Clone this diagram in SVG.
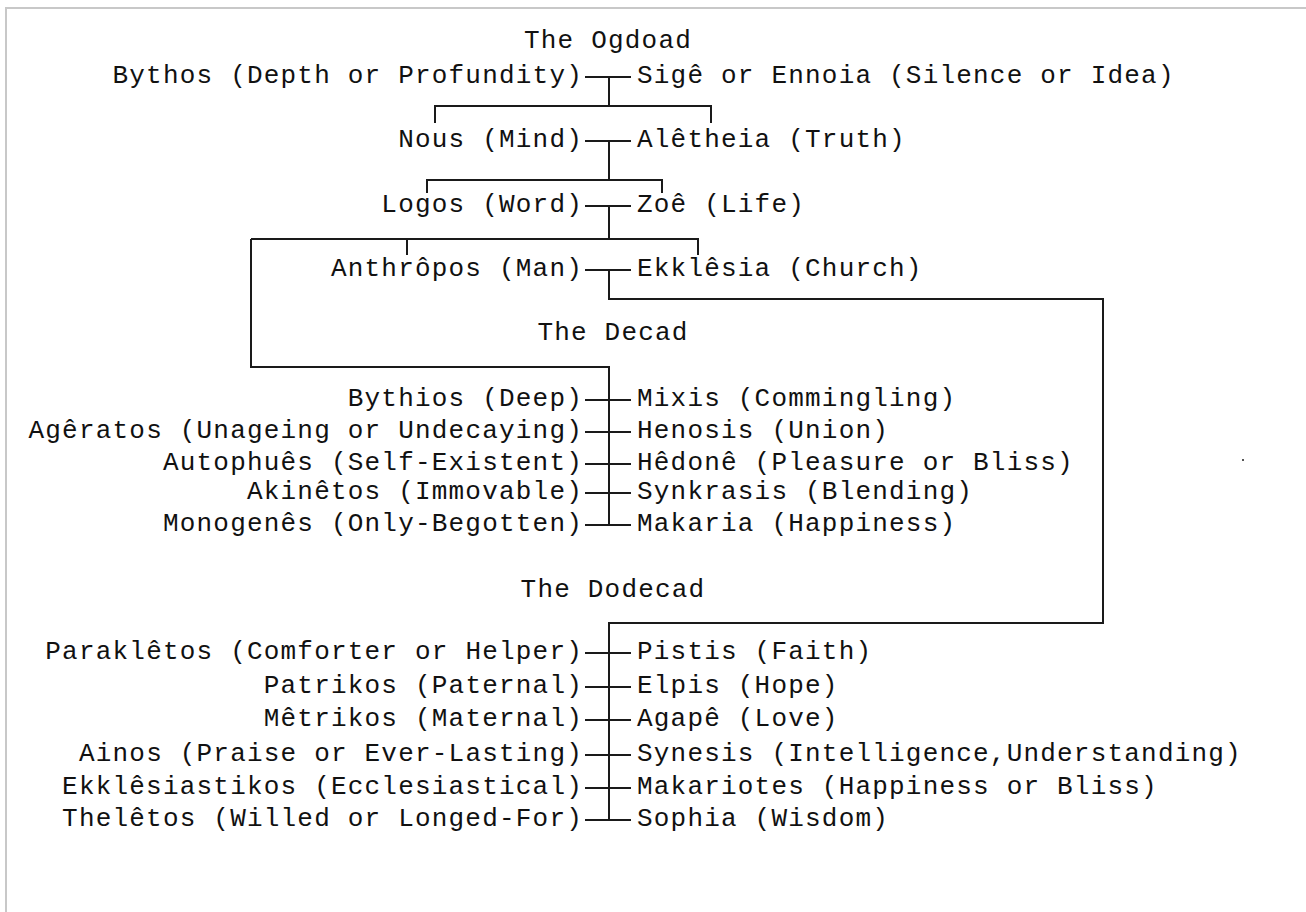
<svg xmlns="http://www.w3.org/2000/svg" width="1306" height="912" viewBox="0 0 1306 912">
<style>
text{font-family:"Liberation Mono","DejaVu Sans Mono",monospace;font-size:26px;letter-spacing:1.2px;fill:#111}
.l{text-anchor:end}
.r{text-anchor:start}
.t{text-anchor:middle}
#connectors path{fill:none;stroke:#1a1a1a;stroke-width:2;shape-rendering:crispEdges}
</style>
<rect width="1306" height="912" fill="#fff"/>
<path d="M6 912V8H1306" fill="none" stroke="#c8c8c8" stroke-width="2" shape-rendering="crispEdges"/>
<g id="connectors">
<path d="M585 77H631M609 77V106M435 123V106H711V123"/>
<path d="M585 141H631M609 141V180M427 193V180H662V193"/>
<path d="M585 206H631M609 206V239M407 255V239H698V255M251 239H407"/>
<path d="M251 239V367H609V525"/>
<path d="M585 270H631M609 270V299H1103V623H609V820"/>
<path d="M585 400H631M585 432H631M585 464H631M585 493H631M585 525H631"/>
<path d="M585 653H631M585 687H631M585 720H631M585 755H631M585 788H631M585 820H631"/>
</g>
<g id="title-ogdoad"><text class="t" x="608" y="48">The Ogdoad</text></g>
<g id="n-bythos"><text class="l" x="583" y="83">Bythos (Depth or Profundity)</text></g>
<g id="n-sige"><text class="r" x="637" y="83">Sigê or Ennoia (Silence or Idea)</text></g>
<g id="n-nous"><text class="l" x="583" y="147">Nous (Mind)</text></g>
<g id="n-aletheia"><text class="r" x="637" y="147">Alêtheia (Truth)</text></g>
<g id="n-logos"><text class="l" x="583" y="212">Logos (Word)</text></g>
<g id="n-zoe"><text class="r" x="637" y="212">Zoê (Life)</text></g>
<g id="n-anthropos"><text class="l" x="583" y="276">Anthrôpos (Man)</text></g>
<g id="n-ekklesia"><text class="r" x="637" y="276">Ekklêsia (Church)</text></g>
<g id="title-decad"><text class="t" x="613" y="340">The Decad</text></g>
<g id="n-bythios"><text class="l" x="583" y="406">Bythios (Deep)</text></g>
<g id="n-mixis"><text class="r" x="637" y="406">Mixis (Commingling)</text></g>
<g id="n-ageratos"><text class="l" x="583" y="438">Agêratos (Unageing or Undecaying)</text></g>
<g id="n-henosis"><text class="r" x="637" y="438">Henosis (Union)</text></g>
<g id="n-autophues"><text class="l" x="583" y="470">Autophuês (Self-Existent)</text></g>
<g id="n-hedone"><text class="r" x="637" y="470">Hêdonê (Pleasure or Bliss)</text></g>
<g id="n-akinetos"><text class="l" x="583" y="499">Akinêtos (Immovable)</text></g>
<g id="n-synkrasis"><text class="r" x="637" y="499">Synkrasis (Blending)</text></g>
<g id="n-monogenes"><text class="l" x="583" y="531">Monogenês (Only-Begotten)</text></g>
<g id="n-makaria"><text class="r" x="637" y="531">Makaria (Happiness)</text></g>
<g id="title-dodecad"><text class="t" x="613" y="597">The Dodecad</text></g>
<g id="n-parakletos"><text class="l" x="583" y="659">Paraklêtos (Comforter or Helper)</text></g>
<g id="n-pistis"><text class="r" x="637" y="659">Pistis (Faith)</text></g>
<g id="n-patrikos"><text class="l" x="583" y="693">Patrikos (Paternal)</text></g>
<g id="n-elpis"><text class="r" x="637" y="693">Elpis (Hope)</text></g>
<g id="n-metrikos"><text class="l" x="583" y="726">Mêtrikos (Maternal)</text></g>
<g id="n-agape"><text class="r" x="637" y="726">Agapê (Love)</text></g>
<g id="n-ainos"><text class="l" x="583" y="761">Ainos (Praise or Ever-Lasting)</text></g>
<g id="n-synesis"><text class="r" x="637" y="761">Synesis (Intelligence,Understanding)</text></g>
<g id="n-ekklesiastikos"><text class="l" x="583" y="794">Ekklêsiastikos (Ecclesiastical)</text></g>
<g id="n-makariotes"><text class="r" x="637" y="794">Makariotes (Happiness or Bliss)</text></g>
<g id="n-theletos"><text class="l" x="583" y="826">Thelêtos (Willed or Longed-For)</text></g>
<g id="n-sophia"><text class="r" x="637" y="826">Sophia (Wisdom)</text></g>
<rect x="1242" y="459" width="2" height="2" fill="#555"/>
</svg>
